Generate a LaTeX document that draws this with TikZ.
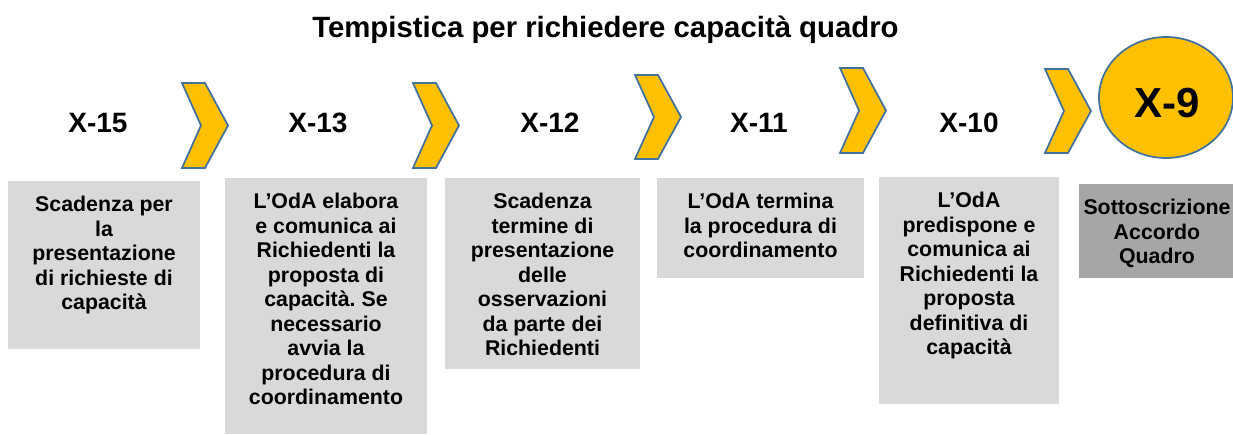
\documentclass[tikz,border=0pt]{standalone}
\usepackage{fontspec}
\setmainfont{Liberation Sans}
\frenchspacing
\definecolor{chevgold}{HTML}{FFC000}
\definecolor{chevblue}{HTML}{41719C}
\definecolor{boxgray}{HTML}{D9D9D9}
\definecolor{boxdark}{HTML}{A6A6A6}
\tikzset{
  chev/.style={fill=chevgold, draw=chevblue, line width=1.3pt, line join=miter},
  daylbl/.style={inner sep=0pt, font=\fontsize{21}{25}\selectfont\bfseries},
  desc/.style={anchor=north, inner sep=0pt, align=center, font=\fontsize{16}{18.4}\selectfont\bfseries},
}
\begin{document}
\begin{tikzpicture}[x=0.75pt, y=-0.75pt, line join=round]
% 1 unita = 1 pixel del disegno (1233 x 435)
\useasboundingbox (0,0) rectangle (1233,435);
\begin{scope}
\clip (0,0) rectangle (1233,435);
% Freccia a V: x sinistra, y alto, y basso
\def\chevron#1#2#3{%
  \draw[chev] (#1,#2) -- ({#1+23},#2) -- ({#1+46},{(#2+#3)/2})
    -- ({#1+23},#3) -- (#1,#3) -- ({#1+19},{(#2+#3)/2}) -- cycle;}
% Titolo
\node[anchor=base, inner sep=0pt, font=\fontsize{22}{26}\selectfont\bfseries] (titolo) at (605.5,37.5)
  {Tempistica per richiedere capacità quadro};
% Frecce tra le date
\chevron{182}{83}{168}
\chevron{413}{83}{168}
\chevron{635}{75}{159}
\chevron{840}{68}{153}
\chevron{1045}{69}{153}
% Cerchio finale
\draw[chev] (1166,97.5) ellipse [x radius=67, y radius=60.5];
% Date
\node[daylbl] (x15) at (98,123) {X-15};
\node[daylbl] (x13) at (318,123) {X-13};
\node[daylbl] (x12) at (550,123) {X-12};
\node[daylbl] (x11) at (759,123) {X-11};
\node[daylbl] (x10) at (969,123) {X-10};
\node[inner sep=0pt, font=\fontsize{31.5}{36}\selectfont\bfseries] (x9) at (1167,103) {X-9};
% Riquadri grigi
\fill[boxgray] (8,181) rectangle (200,349);
\fill[boxgray] (225,178) rectangle (427,434);
\fill[boxgray] (445,178) rectangle (640,369);
\fill[boxgray] (657,178) rectangle (864,278);
\fill[boxgray] (879,177) rectangle (1059,404);
\fill[boxdark] (1079,184) rectangle (1245,278);
% Testi dei riquadri
\node[desc] (d15) at (104,196) {Scadenza per\\la\\presentazione\\di richieste di\\capacità};
\node[desc] (d13) at (326,193) {L’OdA elabora\\e comunica ai\\Richiedenti la\\proposta di\\capacità. Se\\necessario\\avvia la\\procedura di\\coordinamento};
\node[desc] (d12) at (542.5,193) {Scadenza\\termine di\\presentazione\\delle\\osservazioni\\da parte dei\\Richiedenti};
\node[desc] (d11) at (760.5,193) {L’OdA termina\\la procedura di\\coordinamento};
\node[desc] (d10) at (969,192) {L’OdA\\predispone e\\comunica ai\\Richiedenti la\\proposta\\definitiva di\\capacità};
\node[desc] (d9) at (1157,199) {Sottoscrizione\\Accordo\\Quadro};
\end{scope}
\end{tikzpicture}
\end{document}
